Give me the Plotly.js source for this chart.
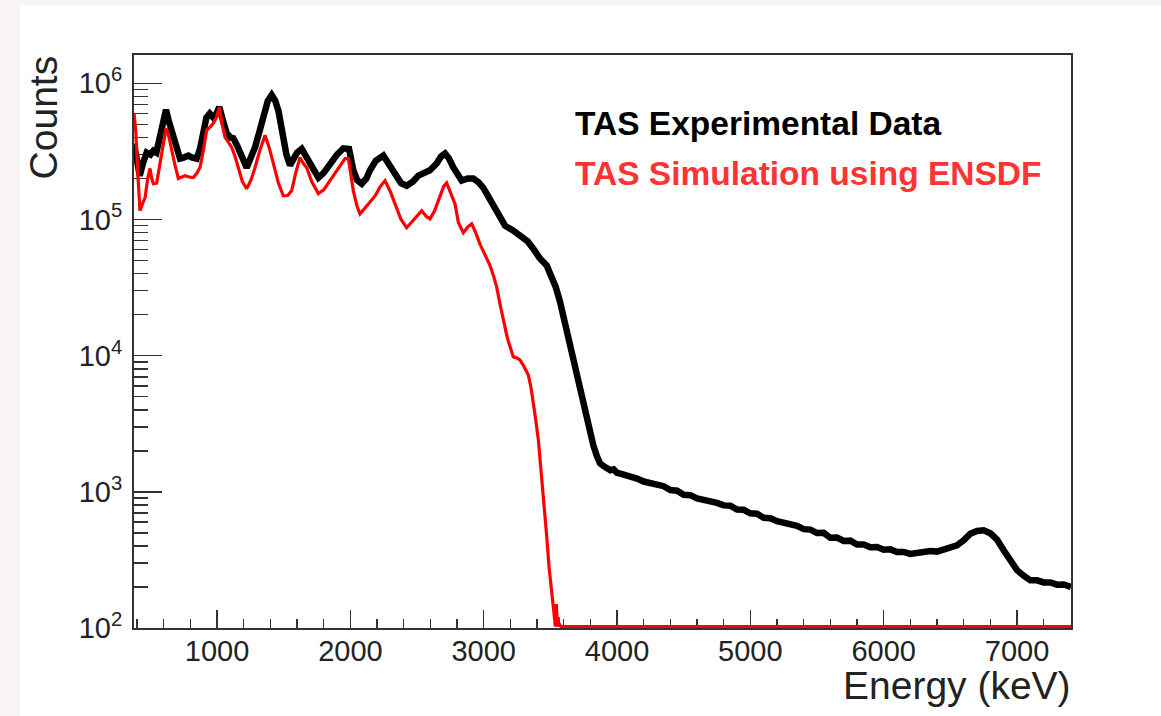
<!DOCTYPE html>
<html>
<head>
<meta charset="utf-8">
<script src="https://cdn.plot.ly/plotly-3.0.1.min.js"></script>
<style>
  html, body { margin: 0; padding: 0; width: 1161px; height: 716px; background: #f7f4f3; overflow: hidden; }
  #chart { position: absolute; left: 20px; top: 5px; width: 1141px; height: 711px; background: #ffffff; }
</style>
</head>
<body>
<div id="chart"></div>
<script>
// ---- Data ----
const expEnergy = [
  377, 395, 420, 445, 472, 500, 522, 545, 570, 595, 617, 640, 672, 700, 722, 750, 785, 815, 847, 872,
  897, 920, 945, 972, 995, 1017, 1045, 1072, 1100, 1122, 1150, 1172, 1200, 1222, 1255, 1285, 1320, 1347, 1380, 1410,
  1435, 1460, 1480, 1497, 1520, 1547, 1575, 1600, 1635, 1660, 1685, 1720, 1760, 1800, 1847, 1900, 1947, 1990, 2022, 2050,
  2085, 2120, 2147, 2190, 2247, 2290, 2335, 2380, 2422, 2470, 2510, 2560, 2597, 2647, 2680, 2710, 2740, 2772, 2810, 2835,
  2880, 2922, 2960, 2997, 3035, 3072, 3110, 3160, 3220, 3272, 3330, 3372, 3420, 3472, 3510, 3540, 3572, 3597, 3622, 3647,
  3672, 3697, 3722, 3747, 3772, 3797, 3822, 3847, 3872, 3897, 3922, 3950, 3975, 4000, 4025,
  4050, 4100, 4150, 4200, 4250, 4300, 4350, 4400, 4450, 4500, 4550, 4600, 4650, 4700, 4750, 4800, 4850, 4900, 4950, 5000,
  5050, 5100, 5150, 5200, 5250, 5300, 5350, 5400, 5450, 5500, 5550, 5600, 5650, 5700, 5750, 5800, 5850, 5900, 5950, 6000,
  6050, 6100, 6150, 6200, 6250, 6300, 6350, 6400, 6450, 6500, 6550, 6600, 6650, 6700, 6750, 6800, 6850, 6900, 6950, 7000,
  7050, 7100, 7150, 7200, 7250, 7300, 7350, 7405
];
const expCounts = [
  3.6e5, 3.0e5, 2.1e5, 2.6e5, 3.1e5, 3.0e5, 3.2e5, 3.1e5, 4.2e5, 5.6e5, 6.4e5, 5.2e5, 4.0e5, 3.1e5, 2.8e5, 2.85e5, 2.95e5, 2.85e5, 2.8e5, 3.3e5,
  4.5e5, 5.6e5, 6.0e5, 5.6e5, 6.0e5, 6.7e5, 5.3e5, 4.3e5, 4.0e5, 3.95e5, 3.5e5, 3.2e5, 2.7e5, 2.4e5, 2.8e5, 3.4e5, 4.5e5, 5.6e5, 7.4e5, 8.2e5,
  7.5e5, 6.3e5, 4.8e5, 3.8e5, 3.0e5, 2.5e5, 2.75e5, 3.1e5, 3.3e5, 3.0e5, 2.7e5, 2.3e5, 2.03e5, 2.2e5, 2.6e5, 3.0e5, 3.33e5, 3.3e5, 2.3e5, 1.95e5,
  1.83e5, 2.0e5, 2.3e5, 2.7e5, 2.95e5, 2.5e5, 2.1e5, 1.85e5, 1.77e5, 1.9e5, 2.1e5, 2.2e5, 2.3e5, 2.58e5, 2.9e5, 3.05e5, 2.8e5, 2.41e5, 2.05e5, 1.93e5,
  2.0e5, 2.0e5, 1.88e5, 1.71e5, 1.47e5, 1.26e5, 1.05e5, 9.0e4, 8.3e4, 7.6e4, 6.9e4, 6.1e4, 5.2e4, 4.6e4, 3.8e4, 3.2e4, 2.5e4, 1.95e4, 1.5e4, 1.2e4,
  9.5e3, 7.4e3, 5.7e3, 4.4e3, 3.4e3, 2.7e3, 2.2e3, 1.85e3, 1.62e3, 1.55e3, 1.48e3, 1.44e3, 1.46e3, 1.38e3, 1.36e3,
  1340, 1290, 1250, 1190, 1170, 1120, 1100, 1030, 1020, 950, 945, 895, 880, 850, 830, 795, 790, 740, 738, 695,
  690, 645, 640, 608, 592, 565, 562, 532, 528, 498, 500, 460, 462, 436, 438, 410, 410, 392, 393, 376,
  378, 362, 362, 350, 356, 358, 368, 364, 376, 382, 405, 440, 492, 516, 522, 496, 446, 372, 312, 266,
  242, 224, 224, 216, 216, 208, 209, 200
];

const simEnergy = [
  377, 390, 405, 422, 440, 460, 480, 497, 510, 522, 547, 572, 595, 617, 640, 660, 685, 710, 735, 760,
  790, 822, 850, 872, 897, 922, 950, 972, 995, 1017, 1040, 1060, 1085, 1110, 1135, 1160, 1190, 1222, 1255, 1285,
  1320, 1360, 1390, 1422, 1460, 1497, 1530, 1560, 1590, 1622, 1645, 1672, 1710, 1760, 1800, 1847, 1900, 1960, 1985, 2022,
  2050, 2072, 2105, 2135, 2185, 2225, 2260, 2300, 2335, 2380, 2422, 2455, 2485, 2535, 2570, 2597, 2630, 2660, 2700, 2722,
  2750, 2785, 2810, 2847, 2880, 2910, 2940, 2972, 3010, 3047, 3072, 3097, 3122, 3147, 3170, 3185, 3205, 3222, 3250, 3272,
  3300, 3335, 3355, 3372, 3390, 3410, 3435, 3455, 3472, 3490, 3505, 3520, 3530, 3538, 3545, 3552, 3558, 3565, 3572, 3580,
  4000, 5000, 6000, 7000, 7405
];
const simCounts = [
  6.0e5, 4.5e5, 2.2e5, 1.16e5, 1.3e5, 1.45e5, 2.0e5, 2.37e5, 2.0e5, 1.83e5, 1.85e5, 2.57e5, 3.6e5, 4.68e5, 4.0e5, 3.21e5, 2.5e5, 2.0e5, 2.05e5, 2.1e5,
  2.05e5, 2.03e5, 2.2e5, 2.41e5, 3.2e5, 4.52e5, 4.8e5, 5.09e5, 5.6e5, 6.68e5, 4.9e5, 4.01e5, 3.7e5, 3.38e5, 2.9e5, 2.41e5, 1.9e5, 1.68e5, 1.95e5, 2.41e5,
  3.2e5, 4.15e5, 3.4e5, 2.58e5, 1.85e5, 1.49e5, 1.5e5, 1.63e5, 2.2e5, 2.85e5, 2.6e5, 2.41e5, 1.9e5, 1.55e5, 1.65e5, 1.93e5, 2.3e5, 2.8e5, 2.8e5, 1.63e5,
  1.25e5, 1.1e5, 1.2e5, 1.3e5, 1.49e5, 1.75e5, 1.93e5, 1.6e5, 1.3e5, 1.0e5, 8.7e4, 9.5e4, 1.03e5, 1.16e5, 1.05e5, 1.01e5, 1.15e5, 1.37e5, 1.75e5, 1.86e5,
  1.6e5, 1.3e5, 9.5e4, 8.0e4, 8.8e4, 9.3e4, 8.0e4, 6.6e4, 5.5e4, 4.6e4, 3.9e4, 3.2e4, 2.4e4, 1.78e4, 1.45e4, 1.27e4, 1.08e4, 9.8e3, 9.6e3, 9.3e3,
  8.4e3, 7.2e3, 5.8e3, 4.56e3, 3.4e3, 2.4e3, 1.3e3, 800, 480, 280, 210, 150, 130, 100, 150, 0, 120, 0, 105, 0,
  0, 0, 0, 0, 0
];

const yTickVals = [1e2, 1e3, 1e4, 1e5, 1e6];
const yTickText = ['10<sup>2</sup>', '10<sup>3</sup>', '10<sup>4</sup>', '10<sup>5</sup>', '10<sup>6</sup>'];

// ---- Drawing ----
const Y_MIN_LOG = 2, Y_MAX_LOG = 6.208;
// empty bins are drawn on the lower frame, as in ROOT
const FLOOR = Math.pow(10, Y_MIN_LOG + 0.011);
const simDraw = simCounts.map(v => Math.max(v, FLOOR));

const minorVals = [];
for (let d = 2; d <= 6; d++) for (let k = 2; k <= 9; k++) minorVals.push(k * Math.pow(10, d));

const FONT = 'Liberation Sans, Arial, Helvetica, sans-serif';
const AX = '#333333';

const traces = [
  { x: expEnergy, y: expCounts, type: 'scatter', mode: 'lines', name: 'TAS Experimental Data',
    line: { color: '#000000', width: 6.5 } },
  { x: simEnergy, y: simDraw, type: 'scatter', mode: 'lines', name: 'TAS Simulation using ENSDF',
    line: { color: '#ff0000', width: 3.2 } }
];

const layout = {
  width: 1141, height: 711,
  margin: { l: 114, r: 90, t: 50, b: 88, pad: 0 },
  paper_bgcolor: '#ffffff', plot_bgcolor: '#ffffff',
  showlegend: false,
  font: { family: FONT, color: '#222222' },
  xaxis: {
    range: [377, 7405], tickmode: 'linear', tick0: 0, dtick: 1000,
    ticks: 'inside', ticklen: 18, tickwidth: 1.5, tickcolor: AX,
    showline: true, linecolor: AX, linewidth: 2, mirror: true,
    showgrid: false, zeroline: false, layer: 'below traces',
    ticklabelstandoff: -4,
    tickfont: { family: FONT, size: 29, color: '#222222' },
    minor: { tickmode: 'linear', tick0: 0, dtick: 200, ticks: 'inside', ticklen: 9, tickwidth: 1.5, tickcolor: AX, showgrid: false }
  },
  yaxis: {
    type: 'log', range: [Y_MIN_LOG, Y_MAX_LOG],
    tickmode: 'array', tickvals: yTickVals, ticktext: yTickText,
    ticks: 'inside', ticklen: 28, tickwidth: 1.5, tickcolor: AX,
    showline: true, linecolor: AX, linewidth: 2, mirror: true,
    showgrid: false, zeroline: false, layer: 'below traces',
    ticklabelstandoff: 4,
    tickfont: { family: FONT, size: 29, color: '#222222' },
    minor: { tickmode: 'array', tickvals: minorVals, ticks: 'inside', ticklen: 14, tickwidth: 1.5, tickcolor: AX, showgrid: false }
  },
  annotations: [
    { text: 'Counts', textangle: -90, xref: 'paper', yref: 'paper', x: -0.0961, y: 0.891,
      xanchor: 'center', yanchor: 'middle', showarrow: false, font: { family: FONT, size: 39, color: '#222222' } },
    { text: 'Energy (keV)', xref: 'paper', yref: 'paper', x: 1.002, y: -0.1,
      xanchor: 'right', yanchor: 'middle', showarrow: false, font: { family: FONT, size: 39, color: '#222222' } },
    { text: '<b>TAS Experimental Data</b>', xref: 'paper', yref: 'paper', x: 0.4685, y: 0.8796,
      xanchor: 'left', yanchor: 'middle', showarrow: false, font: { family: FONT, size: 33.5, color: '#000000' } },
    { text: '<b>TAS Simulation using ENSDF</b>', xref: 'paper', yref: 'paper', x: 0.4685, y: 0.794,
      xanchor: 'left', yanchor: 'middle', showarrow: false, font: { family: FONT, size: 33.5, color: '#ff3333' } }
  ]
};

Plotly.newPlot('chart', traces, layout, { displayModeBar: false, staticPlot: true });
</script>
</body>
</html>
